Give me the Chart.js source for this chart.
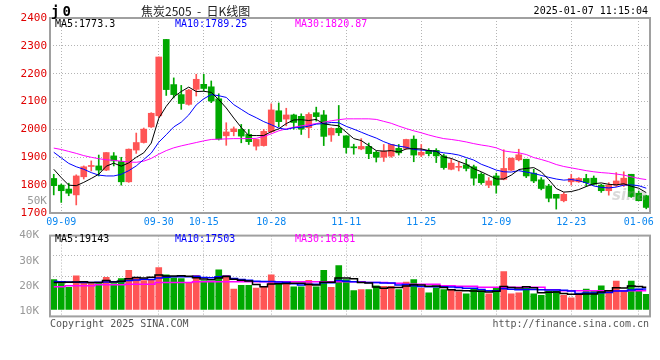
<!DOCTYPE html>
<html>
<head>
<meta charset="utf-8">
<script src="https://cdn.jsdelivr.net/npm/chart.js@4.4.1/dist/chart.umd.min.js"></script>
<style>
body{margin:0;background:#fff}
#wrap{position:relative;width:660px;height:360px;font-family:"DejaVu Sans Mono",monospace;font-size:10px;color:#000}
canvas{position:absolute;left:0}
.t{position:absolute;white-space:pre;line-height:12px}
</style>
</head>
<body>
<div id="wrap">
<canvas id="kline" width="660" height="230" style="top:0"></canvas>
<canvas id="vol" width="660" height="100" style="top:226px"></canvas>

<div class="t" style="left:51px;top:4px;font-weight:bold;font-size:14px;line-height:14px;letter-spacing:3px">j0</div>
<div class="t" style="left:141px;top:4px;font-family:'Noto Sans CJK SC';font-size:12px;line-height:14px;color:#222">焦炭2505  -  日K线图</div>
<div class="t" style="right:12px;top:5px">2025-01-07 11:15:04</div>

<div class="t" style="left:55px;top:18px">MA5:1773.3</div>
<div class="t" style="left:175px;top:18px;color:#0000ff">MA10:1789.25</div>
<div class="t" style="left:295px;top:18px;color:#ff00ff">MA30:1820.87</div>

<div class="t" style="right:613px;top:195px;color:#999;font-size:11px">50K</div>

<div class="t" style="left:55px;top:233px">MA5:19143</div>
<div class="t" style="left:175px;top:233px;color:#0000ff">MA10:17503</div>
<div class="t" style="left:295px;top:233px;color:#ff00ff">MA30:16181</div>

<div class="t" style="left:50px;top:318px;color:#555">Copyright 2025 SINA.COM</div>
<div class="t" style="right:11px;top:318px;color:#555">http://finance.sina.com.cn</div>
<div class="t" style="left:612px;top:189px;font-family:'DejaVu Sans';font-style:italic;font-weight:bold;font-size:15px;color:rgba(150,150,150,0.35)">sina</div>
</div>

<script>
// 交易日
const dates = ['09-06','09-09','09-10','09-11','09-12','09-13','09-18','09-19','09-20','09-23','09-24','09-25','09-26','09-27','09-30',
  '10-08','10-09','10-10','10-11','10-14','10-15','10-16','10-17','10-18','10-21','10-22','10-23','10-24','10-25','10-28','10-29','10-30','10-31',
  '11-01','11-04','11-05','11-06','11-07','11-08','11-11','11-12','11-13','11-14','11-15','11-18','11-19','11-20','11-21','11-22','11-25','11-26','11-27','11-28','11-29',
  '12-02','12-03','12-04','12-05','12-06','12-09','12-10','12-11','12-12','12-13','12-16','12-17','12-18','12-19','12-20','12-23','12-24','12-25','12-26','12-27','12-30','12-31',
  '01-02','01-03','01-06','01-07'];
const dateTicks = ['09-09','09-30','10-15','10-28','11-11','11-25','12-09','12-23','01-06'];

const opens  = [1824,1800,1786,1765,1830,1867,1869,1854,1905,1885,1812,1926,1953,2009,2049,2323,2161,2125,2090,2144,
                2162,2153,2110,1977,1992,2000,1982,1940,1942,1992,2067,2037,2052,2047,2006,2060,2052,1980,2004,1977,
                1936,1930,1939,1918,1900,1904,1932,1932,1965,1908,1925,1925,1905,1857,1864,1873,1866,1839,1800,1833,
                1821,1854,1891,1893,1843,1819,1797,1767,1744,1812,1812,1824,1825,1800,1780,1800,1800,1839,1771,1762];
const highs  = [1839,1804,1807,1837,1869,1887,1908,1917,1917,1900,1930,1987,2005,2060,2260,2323,2185,2158,2144,2198,
                2198,2174,2128,2024,2009,2018,2000,1964,2000,2092,2095,2076,2055,2056,2060,2080,2068,2006,2086,1977,
                1947,1967,1951,1922,1946,1946,1946,1965,1977,1946,1931,1931,1911,1895,1883,1893,1872,1845,1827,1843,
                1927,1897,1929,1893,1857,1827,1803,1767,1773,1839,1827,1839,1833,1803,1809,1845,1848,1839,1779,1764];
const lows   = [1765,1738,1762,1729,1822,1851,1833,1852,1869,1800,1810,1914,1951,2007,2043,2122,2113,2072,2087,2120,
                2138,2096,1962,1943,1977,1952,1946,1926,1940,1987,2010,2013,2001,1982,1970,2030,1942,1957,1978,1915,
                1911,1927,1895,1883,1885,1900,1908,1929,1884,1902,1905,1881,1857,1855,1851,1851,1800,1803,1791,1771,
                1819,1852,1887,1827,1809,1783,1740,1714,1740,1800,1810,1795,1800,1774,1764,1795,1795,1756,1744,1715];
const closes = [1798,1780,1771,1833,1866,1869,1854,1917,1887,1812,1929,1953,2001,2058,2260,2143,2125,2093,2141,2180,
                2147,2102,1965,1991,2002,1976,1956,1964,1993,2070,2028,2052,2025,2001,2054,2046,1975,2004,1988,1935,
                1934,1939,1913,1900,1922,1946,1916,1964,1908,1918,1913,1905,1863,1879,1866,1860,1825,1809,1815,1800,
                1860,1897,1909,1833,1815,1788,1753,1753,1767,1824,1824,1809,1803,1780,1800,1815,1825,1759,1744,1720];

const ma5  = [1857,1827,1800,1798,1810,1824,1839,1868,1879,1868,1880,1900,1916,1951,2040,2083,2117,2136,2152,2136,
              2137,2133,2107,2077,2041,2007,1978,1978,1978,1992,2002,2021,2034,2035,2032,2036,2020,2016,2013,1990,
              1967,1960,1942,1924,1922,1924,1919,1930,1931,1930,1924,1922,1901,1896,1885,1875,1859,1848,1835,1822,
              1822,1836,1856,1860,1863,1848,1820,1788,1775,1777,1784,1795,1805,1808,1803,1801,1805,1796,1789,1773];
const ma10 = [1918,1898,1878,1866,1857,1845,1836,1833,1833,1839,1852,1869,1892,1915,1954,1981,2009,2026,2052,2088,
              2110,2125,2121,2115,2089,2072,2055,2042,2028,2017,2005,2000,2006,2007,2012,2019,2021,2025,2024,2011,
              2001,1990,1979,1969,1956,1946,1940,1936,1928,1926,1924,1921,1916,1913,1908,1899,1890,1875,1865,1854,
              1848,1847,1852,1847,1842,1835,1828,1822,1818,1820,1816,1808,1797,1792,1790,1793,1800,1801,1798,1789];
const ma30 = [1933,1928,1921,1914,1906,1900,1895,1891,1889,1886,1883,1882,1886,1896,1911,1924,1934,1941,1947,1953,
              1959,1964,1965,1966,1967,1967,1967,1968,1975,1984,1995,2002,2008,2013,2017,2021,2026,2031,2035,2038,
              2038,2038,2038,2036,2029,2022,2012,2003,1995,1988,1980,1973,1967,1964,1960,1955,1949,1944,1940,1934,
              1923,1919,1916,1910,1899,1892,1884,1874,1867,1862,1857,1852,1848,1845,1843,1840,1836,1830,1824,1820];

// 成交量
const volumes = [22600,21000,19500,24100,21400,21000,21000,23500,21000,23000,26200,23500,22200,22600,27300,24500,23300,23000,21400,24300,
                 22200,21700,26400,24300,18800,20300,20300,19200,19800,24500,20700,20700,19700,19700,22300,19700,26200,19500,28100,22600,
                 18200,18600,18600,20100,19900,19900,18600,21600,22600,19200,17300,19300,18600,18400,17700,16900,18700,18200,16900,19200,
                 25800,16900,17300,19500,16900,16300,17900,17900,16300,15400,16300,18800,17900,20100,17900,22000,18200,22000,18800,16700];
const volMa5  = [21400,21400,21500,21600,21700,21400,21400,22200,21600,21900,22900,23400,23200,23500,24400,24000,24000,24100,23900,23300,
                 22800,22500,23200,23800,22700,22300,22000,20600,19700,20800,20900,21000,21100,21100,20600,20400,21500,21500,23200,23200,
                 22900,21400,21200,19600,19100,19400,19400,20000,20500,20400,19900,20000,19400,18600,18300,18200,18100,18000,17700,18000,
                 19800,19400,19200,19700,19300,17400,17600,17700,17100,16800,16800,16900,16900,17700,18200,19300,19200,20000,19800,19500];
const volMa10 = [21800,21700,21600,21500,21400,21400,21500,21600,21700,21800,22200,22400,22700,22600,23200,23500,23700,23700,23700,23900,
                 23400,23300,23700,23900,23000,22600,22300,21900,21800,21800,21600,21500,20900,20400,20700,20700,21300,21300,22200,21900,
                 21700,21500,21400,21400,21200,21200,20400,20600,20100,19800,19700,19700,19700,19600,19400,19100,19100,18700,18200,18200,
                 19000,18800,18600,18700,18700,18600,18500,18500,18400,18100,17100,17300,17300,17400,17500,18100,18100,18500,18800,18900];
const volMa30 = [19700,19700,20100,20100,20100,20100,20500,20500,20500,20500,20700,20700,20700,20700,21400,21400,21400,21400,21400,21700,
                 21700,21700,21700,21700,21700,21700,21700,21700,21700,21700,21700,21700,21700,21700,21700,21700,21700,21700,21700,21700,
                 21700,21700,21400,21400,21400,21100,21100,20700,20700,20700,20700,20700,20100,20100,19900,19900,19900,19500,19500,19500,
                 19500,19500,19500,19500,19500,19500,18600,18600,18200,18200,18200,18200,18200,18200,18200,18200,18200,18200,18200,18200];

const priceTicks = [1700,1800,1900,2000,2100,2200,2300,2400];
const volTicks = [10000,20000,30000,40000];

const UP = '#ff5555', DOWN = '#00a800';
const colors = closes.map((c, i) => c >= opens[i] ? UP : DOWN);
const monoFont = {family: 'DejaVu Sans Mono', size: 10};

// 外框
const frame = {
  id: 'frame',
  afterDraw(chart) {
    const a = chart.chartArea, c = chart.ctx;
    c.save();
    c.strokeStyle = '#a0a0a0';
    c.lineWidth = 2;
    c.strokeRect(a.left, a.top, a.right - a.left, a.bottom - a.top);
    c.restore();
  }
};

function dateAxis(showLabels) {
  return {
    type: 'category',
    offset: true,
    grid: {offset: false, color: '#b4b4b4', drawTicks: false},
    border: {display: false, dash: [1, 2]},
    afterBuildTicks(s) { s.ticks = s.ticks.filter(t => dateTicks.includes(dates[t.value])); },
    ticks: {display: showLabels, autoSkip: false, maxRotation: 0, color: '#0a86f0', font: monoFont, padding: 3},
    afterFit(s) { s.height = showLabels ? 17 : 0; }
  };
}

function lineSet(data, color, stepped, width) {
  return {type: 'line', data: data, borderColor: color, borderWidth: width, pointRadius: 0,
          fill: false, tension: 0, stepped: stepped, order: 0};
}

new Chart(document.getElementById('kline'), {
  type: 'bar',
  data: {
    labels: dates,
    datasets: [
      {data: lows.map((l, i) => [l, highs[i]]), backgroundColor: colors, barThickness: 1, grouped: false, order: 2},
      {data: opens.map((o, i) => [o, closes[i]]), backgroundColor: colors, barThickness: 6, minBarLength: 1, grouped: false, order: 1},
      lineSet(ma5, '#000000', false, 1),
      lineSet(ma10, '#0000ff', false, 1),
      lineSet(ma30, '#ff00ff', false, 1)
    ]
  },
  options: {
    responsive: false,
    animation: false,
    events: [],
    layout: {padding: {top: 18, right: 10, left: 0, bottom: 0}},
    plugins: {legend: {display: false}, tooltip: {enabled: false}},
    scales: {
      x: dateAxis(true),
      y: {
        min: 1700, max: 2400,
        afterBuildTicks(s) { s.ticks = priceTicks.map(v => ({value: v})); },
        ticks: {color: '#e00000', font: {family: 'DejaVu Sans Mono', size: 11}, padding: 3, callback: v => String(v)},
        grid: {color: '#b4b4b4', drawTicks: false},
        border: {display: false, dash: [1, 2]},
        afterFit(s) { s.width = 50; }
      }
    }
  },
  plugins: [frame]
});

new Chart(document.getElementById('vol'), {
  type: 'bar',
  data: {
    labels: dates,
    datasets: [
      {data: volumes, base: 10800, backgroundColor: colors, barThickness: 6, grouped: false, order: 1},
      lineSet(volMa5, '#000000', 'middle', 1.5),
      lineSet(volMa10, '#0000ff', 'middle', 1.5),
      lineSet(volMa30, '#ff00ff', 'middle', 1.5)
    ]
  },
  options: {
    responsive: false,
    animation: false,
    events: [],
    layout: {padding: {top: 8, right: 10, left: 0, bottom: 8}},
    plugins: {legend: {display: false}, tooltip: {enabled: false}},
    scales: {
      x: dateAxis(false),
      y: {
        min: 8000, max: 40000,
        afterBuildTicks(s) { s.ticks = volTicks.map(v => ({value: v})); },
        ticks: {color: '#999', font: {family: 'DejaVu Sans Mono', size: 11}, padding: 3, callback: v => (v / 1000) + 'K'},
        grid: {display: false},
        border: {display: false},
        afterFit(s) { s.width = 50; }
      },
      g: {
        position: 'left',
        min: 0, max: 4,
        ticks: {display: false, stepSize: 1},
        grid: {color: '#b4b4b4', drawTicks: false},
        border: {display: false, dash: [1, 2]},
        afterFit(s) { s.width = 0; }
      }
    }
  },
  plugins: [frame]
});
</script>
</body>
</html>
